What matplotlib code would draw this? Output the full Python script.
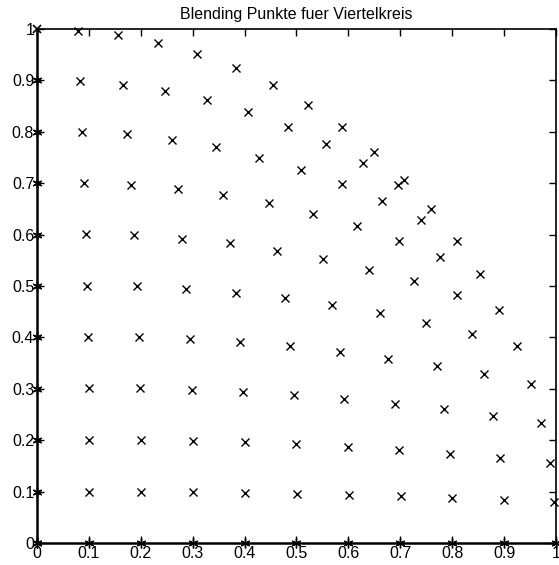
import numpy as np
import matplotlib
matplotlib.use('Agg')
import matplotlib.pyplot as plt

plt.rcParams['font.family'] = ['Liberation Sans', 'DejaVu Sans']

# blending points, one row per v-level (v = 0.1 ... 1.0), 10 points each
x_pts = [
    [0.100, 0.201, 0.301, 0.401, 0.501, 0.601, 0.701, 0.800, 0.899, 0.997],
    [0.100, 0.201, 0.301, 0.400, 0.500, 0.599, 0.697, 0.795, 0.892, 0.988],
    [0.100, 0.199, 0.298, 0.397, 0.495, 0.592, 0.689, 0.785, 0.879, 0.972],
    [0.098, 0.196, 0.294, 0.391, 0.487, 0.583, 0.677, 0.770, 0.861, 0.951],
    [0.096, 0.192, 0.288, 0.383, 0.477, 0.569, 0.661, 0.750, 0.838, 0.924],
    [0.094, 0.187, 0.280, 0.372, 0.463, 0.552, 0.640, 0.726, 0.810, 0.891],
    [0.091, 0.181, 0.271, 0.359, 0.447, 0.532, 0.616, 0.698, 0.776, 0.853],
    [0.087, 0.174, 0.260, 0.345, 0.428, 0.509, 0.588, 0.665, 0.739, 0.809],
    [0.083, 0.166, 0.247, 0.328, 0.406, 0.483, 0.557, 0.628, 0.696, 0.760],
    [0.079, 0.156, 0.233, 0.309, 0.383, 0.454, 0.523, 0.588, 0.649, 0.707],
]
y_pts = [
    [0.100, 0.100, 0.100, 0.098, 0.096, 0.094, 0.091, 0.087, 0.083, 0.079],
    [0.201, 0.201, 0.199, 0.196, 0.192, 0.187, 0.181, 0.174, 0.166, 0.156],
    [0.301, 0.301, 0.298, 0.294, 0.288, 0.280, 0.271, 0.260, 0.247, 0.233],
    [0.401, 0.400, 0.397, 0.391, 0.383, 0.372, 0.359, 0.345, 0.328, 0.309],
    [0.501, 0.500, 0.495, 0.487, 0.477, 0.463, 0.447, 0.428, 0.406, 0.383],
    [0.601, 0.599, 0.592, 0.583, 0.569, 0.552, 0.532, 0.509, 0.483, 0.454],
    [0.701, 0.697, 0.689, 0.677, 0.661, 0.640, 0.616, 0.588, 0.557, 0.523],
    [0.800, 0.795, 0.785, 0.770, 0.750, 0.726, 0.698, 0.665, 0.628, 0.588],
    [0.899, 0.892, 0.879, 0.861, 0.838, 0.810, 0.776, 0.739, 0.696, 0.649],
    [0.997, 0.988, 0.972, 0.951, 0.924, 0.891, 0.853, 0.809, 0.760, 0.707],
]

# boundary points (starred)
left_y = [0.0, 0.1, 0.2, 0.3, 0.4, 0.5, 0.6, 0.7, 0.8, 0.9]
bottom_x = [0.0, 0.1, 0.2, 0.3, 0.4, 0.5, 0.6, 0.7, 0.8, 0.9, 1.0]
corner = (0.0, 1.0)

ticks = [0, 0.1, 0.2, 0.3, 0.4, 0.5, 0.6, 0.7, 0.8, 0.9, 1]
tick_labels = ['0', '0.1', '0.2', '0.3', '0.4', '0.5', '0.6', '0.7', '0.8', '0.9', '1']

fig = plt.figure(figsize=(5.59, 5.65), dpi=100)
ax = fig.add_axes([0.0662, 0.0389, 0.9284, 0.9097])

xs = np.array(x_pts).ravel()
ys = np.array(y_pts).ravel()
ax.plot(xs, ys, 'x', color='black', markersize=5.5, markeredgewidth=1.0, clip_on=False)

ax.plot(np.zeros(len(left_y)), left_y, linestyle='none', marker=(6, 2, 0),
        color='black', markersize=7, markeredgewidth=1.0, clip_on=False)
ax.plot(bottom_x, np.zeros(len(bottom_x)), linestyle='none', marker=(6, 2, 0),
        color='black', markersize=7, markeredgewidth=1.0, clip_on=False)
ax.plot([corner[0]], [corner[1]], 'x', color='black', markersize=5.5,
        markeredgewidth=1.2, clip_on=False)

ax.set_xlim(0, 1)
ax.set_ylim(0, 1)
ax.set_xticks(ticks)
ax.set_yticks(ticks)
ax.set_xticklabels(tick_labels)
ax.set_yticklabels(tick_labels)
ax.tick_params(direction='in', length=5, width=1, top=True, right=True,
               labelsize=11.5, pad=2)
for side in ['left', 'bottom']:
    ax.spines[side].set_linewidth(1.8)
for side in ['top', 'right']:
    ax.spines[side].set_linewidth(1.2)

ax.set_title('Blending Punkte fuer Viertelkreis', fontsize=11.5, pad=7)

fig.savefig('out.png', dpi=100)
